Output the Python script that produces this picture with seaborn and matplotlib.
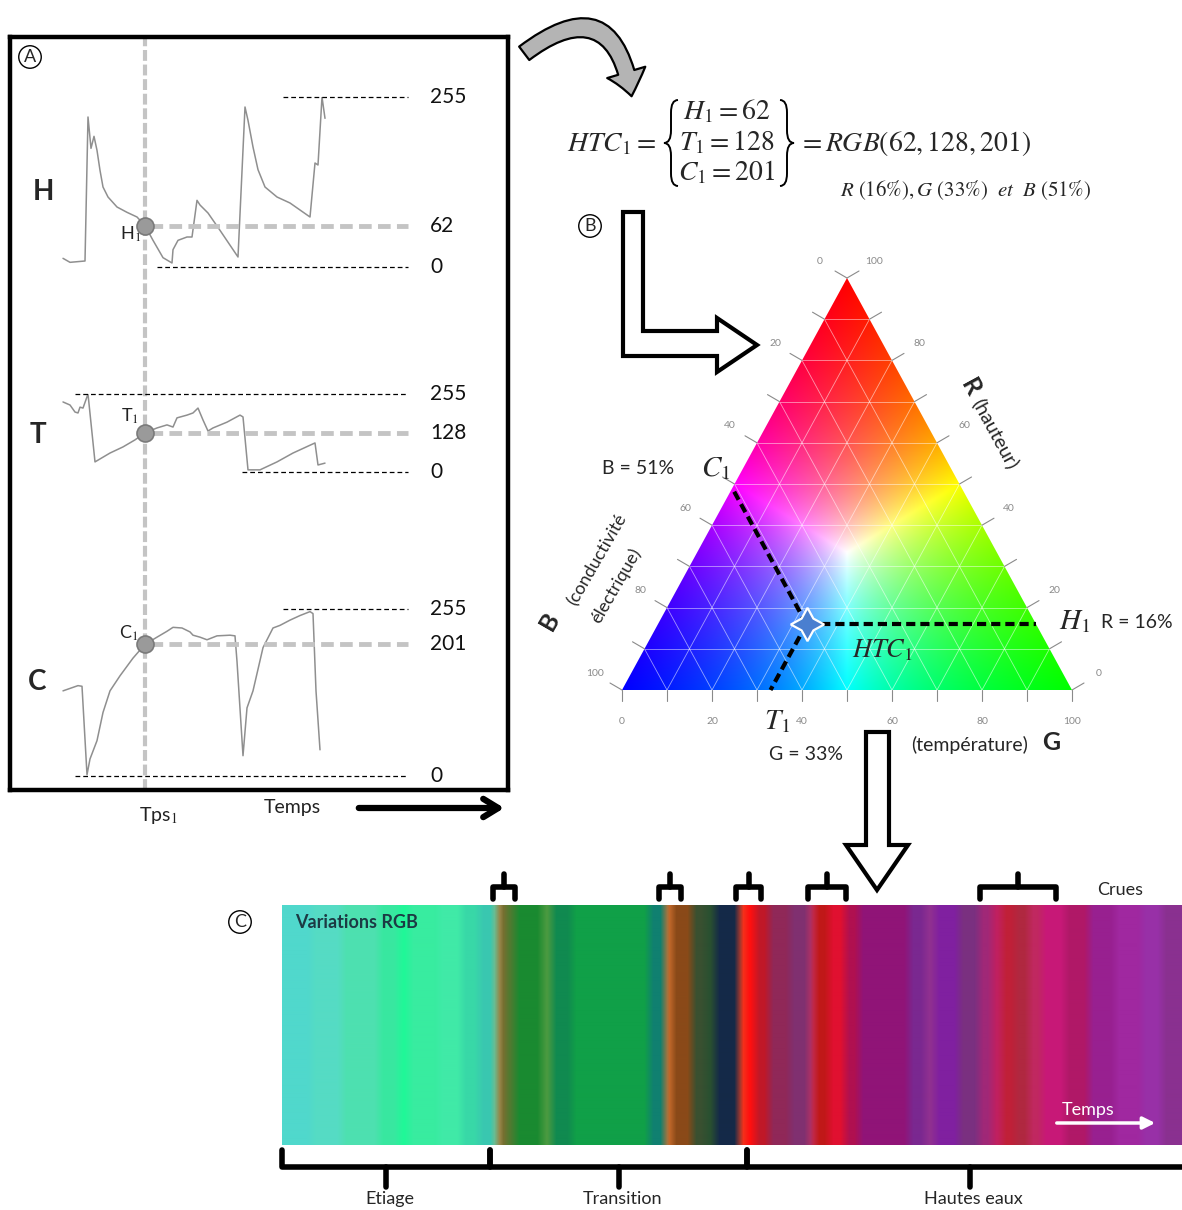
import numpy as np
import matplotlib
matplotlib.use('Agg')
import matplotlib.pyplot as plt
import seaborn as sns
import pandas as pd
from matplotlib.patches import Polygon, FancyArrowPatch, PathPatch
from matplotlib.path import Path
from matplotlib.transforms import blended_transform_factory

sns.set_theme(style='white')
plt.rcParams['font.family'] = ['Lato', 'DejaVu Sans']
plt.rcParams['mathtext.fontset'] = 'stix'

# ---------------- data ----------------
time_H = [0, 7, 22, 25, 28, 31, 34, 37, 40, 45, 54, 64, 74, 82, 90, 100, 109, 110, 115, 124,
          129, 134, 137, 145, 157, 175, 182, 185, 190, 195, 202, 214, 227, 247, 252, 255,
          259, 262]
val_H = [13, 7, 9, 225, 178, 196, 175, 145, 120, 105, 90, 82, 75, 62, 40, 14, 6, 26, 40, 45,
         45, 100, 93, 81, 55, 15, 240, 220, 180, 146, 120, 105, 96, 75, 156, 153, 255, 223]
time_T = [0, 7, 12, 15, 17, 20, 25, 32, 47, 60, 72, 82, 94, 104, 110, 114, 124, 130, 135,
          140, 145, 150, 164, 177, 180, 185, 197, 214, 230, 252, 255, 262]
val_T = [229, 219, 196, 193, 212, 209, 255, 33, 62, 82, 105, 128, 144, 154, 147, 177, 186,
         193, 209, 170, 134, 144, 163, 186, 180, 7, 7, 33, 62, 95, 23, 29]
time_C = [0, 15, 19, 24, 27, 34, 40, 47, 57, 70, 82, 94, 104, 110, 119, 127, 130, 137, 144,
          154, 167, 172, 174, 180, 184, 190, 200, 210, 217, 227, 237, 247, 250, 253, 257]
val_C = [130, 138, 137, 2, 26, 54, 97, 130, 153, 180, 201, 212, 221, 227, 226, 220, 215, 212,
         208, 214, 215, 214, 175, 31, 104, 130, 196, 226, 230, 238, 245, 251, 248, 130, 40]
tps1 = 82
H1, T1, C1 = 62, 128, 201
R_pct, G_pct, B_pct = 16, 33, 51

band_start = [0, 30, 60, 97, 117, 127, 157, 180, 197, 213, 217, 223, 233, 260, 270, 290,
              367, 383, 390, 410, 423, 433, 457, 463, 473, 487, 508, 527, 533, 547, 563,
              577, 627, 643, 653, 677, 697, 710, 720, 733, 747, 760, 783, 807, 833, 860, 880]
band_color = ['#50d8cc', '#55dcc4', '#4ee0b0', '#38e8a0', '#20f898', '#38eca0', '#40eaa8',
              '#38d8a8', '#3ac8b0', '#a0b070', '#8a6a30', '#507a30', '#1a8a30', '#4a9a40',
              '#108a50', '#10a048', '#108070', '#d07030', '#8a4a18', '#3a5030', '#2a5030',
              '#152a48', '#f04020', '#ff1010', '#c01828', '#902858', '#803070', '#c03060',
              '#c01818', '#e01030', '#b01050', '#901478', '#7a2890', '#903090', '#8020a0',
              '#7a3080', '#a02878', '#c02060', '#c02038', '#b02840', '#c02860', '#c81878',
              '#b01868', '#982090', '#a028a0', '#9830a8', '#8a3090']
strip_len = 900
crue_periods = [(211, 233), (377, 399), (454, 479), (526, 564), (698, 774)]
phases = [('Etiage', 0, 208), ('Transition', 208, 465), ('Hautes eaux', 465, 910)]

# ---------------- figure ----------------
W, HH = 1182, 1210
fig = plt.figure(figsize=(W / 100, HH / 100), dpi=100)


def px_axes(x0, y0, x1, y1, **kw):
    return fig.add_axes([x0 / W, 1 - y1 / HH, (x1 - x0) / W, (y1 - y0) / HH], **kw)


ov = px_axes(0, 0, W, HH)
ov.set_xlim(0, W)
ov.set_ylim(HH, 0)
ov.axis('off')
ov.set_zorder(10)
ov.patch.set_visible(False)

# ---------------- Panel A ----------------
TX = (-53, 445)
box = px_axes(10, 37, 508, 790)
box.set_xlim(*TX)
box.set_ylim(0, 1)
box.set_xticks([]); box.set_yticks([])
for s in box.spines.values():
    s.set_linewidth(3.2); s.set_color('black')
box.axvline(tps1, color='#c4c4c4', lw=3, dashes=(2.6, 0.9))

trace_specs = [
    ('H', time_H, val_H, H1, (97, 267), [(255, 220), (0, 94)], (-3, 1), ('right', 'top')),
    ('T', time_T, val_T, T1, (394, 472), [(255, 12), (0, 179)], (-4, 5), ('right', 'bottom')),
    ('C', time_C, val_C, C1, (609, 776), [(255, 220), (0, 12)], (-5, 1), ('right', 'bottom')),
]
for name, tt, vv, v1, (ytop, ybot), reflines, off, (ha, va) in trace_specs:
    ax = px_axes(10, ytop, 508, ybot)
    ax.set_xlim(*TX); ax.set_ylim(0, 255); ax.axis('off'); ax.patch.set_visible(False)
    df = pd.DataFrame({'t': tt, 'v': vv})
    sns.lineplot(data=df, x='t', y='v', ax=ax, color='#8f8f8f', lw=1.1,
                 estimator=None, sort=False)
    for val, start in reflines:
        ax.plot([start, 345], [val, val], color='black', lw=0.9, dashes=(3.8, 2.4),
                clip_on=False)
    ax.plot([87, 345], [v1, v1], color='#c4c4c4', lw=3.5, dashes=(2.6, 1.3), clip_on=False)
    ax.scatter([tps1], [v1], s=150, color='#9a9a9a', edgecolor='#7a7a7a', lw=1.2,
               zorder=5, clip_on=False)
    for val in [255, v1, 0]:
        ax.text(367, val, str(val), fontsize=15, va='center', ha='left', color='#111',
                clip_on=False)
    ax.annotate(name + '$_1$', (tps1, v1), xytext=off, textcoords='offset points',
                ha=ha, va=va, fontsize=13, color='#222')

for lab, (x, y) in zip(['H', 'T', 'C'], [(43, 192), (38, 435), (37, 682)]):
    ov.text(x, y, lab, fontsize=20, fontweight='bold', ha='center', va='center')

ov.text(30, 57, 'A', fontsize=13, ha='center', va='center',
        bbox=dict(boxstyle='circle,pad=0.18', fc='white', ec='black', lw=1))
ov.text(158, 815, 'Tps$_1$', fontsize=14, ha='center', va='center', color='#222')
ov.text(292, 807, 'Temps', fontsize=14, ha='center', va='center', color='#222')
ov.annotate('', xy=(507, 808), xytext=(356, 808),
            arrowprops=dict(arrowstyle='->,head_length=0.9,head_width=0.55', lw=4.5,
                            color='black'))

ov.add_patch(FancyArrowPatch((522, 55), (632, 99), connectionstyle='arc3,rad=-0.85',
                             arrowstyle='simple,head_length=0.8,head_width=1.3,tail_width=0.55',
                             mutation_scale=22, fc='#b4b4b4', ec='black', lw=1.6))


# ---------------- equation ----------------
def brace(x, y0, y1, w, left=True):
    s = 1 if left else -1
    ym = (y0 + y1) / 2
    q = w * 0.9
    xm = x + s * w / 2
    xt = x + s * w
    verts = [(xt, y0), (xm, y0), (xm, y0 + q), (xm, ym - q), (xm, ym), (x, ym),
             (xm, ym), (xm, ym + q), (xm, y1 - q), (xm, y1), (xt, y1)]
    codes = [Path.MOVETO, Path.CURVE3, Path.CURVE3, Path.LINETO, Path.CURVE3, Path.CURVE3,
             Path.CURVE3, Path.CURVE3, Path.LINETO, Path.CURVE3, Path.CURVE3]
    ov.add_patch(PathPatch(Path(verts, codes), fc='none', ec='black', lw=1.4))


ov.text(567, 144, r'$HTC_1 =$', fontsize=20, ha='left', va='center')
brace(664, 100, 186, 14, left=True)
ov.text(727, 111, r'$H_1 = 62$', fontsize=20, ha='center', va='center')
ov.text(727, 142, r'$T_1 = 128$', fontsize=20, ha='center', va='center')
ov.text(727, 172, r'$C_1 = 201$', fontsize=20, ha='center', va='center')
brace(794, 100, 186, 14, left=False)
ov.text(798, 143, r'$= RGB(62,128,201)$', fontsize=20, ha='left', va='center')
ov.text(840, 190, r'$R\ (16\%),G\ (33\%)\ \ et\ \ B\ (51\%)$', fontsize=15, ha='left',
        va='center')

# ---------------- Panel B (ternary) ----------------
ov.text(590, 226, 'B', fontsize=13, ha='center', va='center',
        bbox=dict(boxstyle='circle,pad=0.18', fc='white', ec='black', lw=1))
L_arrow = [(623, 212), (643, 212), (643, 331), (717, 331), (717, 318), (757, 345),
           (717, 372), (717, 356), (623, 356)]
ov.add_patch(Polygon(L_arrow, closed=True, fc='white', ec='black', lw=3))
D_arrow = [(866, 732), (889, 732), (889, 845), (908, 845), (877, 890), (846, 845), (866, 845)]
ov.add_patch(Polygon(D_arrow, closed=True, fc='white', ec='black', lw=3))

h = np.sqrt(3) / 2
TL, TR, TT, TB = 622, 1072, 278, 690
AX0, AX1, AY0, AY1 = 577, 1117, 250, 732
sx = (TR - TL)
sy = (TB - TT) / h
tern = px_axes(AX0, AY0, AX1, AY1)
tern.set_xlim((AX0 - TL) / sx, (AX1 - TL) / sx)
tern.set_ylim(-(AY1 - TB) / sy, (TB - AY0) / sy)
tern.axis('off')
tern.patch.set_visible(False)

xs = np.linspace(0, 1, 451)
ys = np.linspace(0, h, 413)
X, Y = np.meshgrid(xs, ys)
Rr = Y / h
Gg = X - Rr / 2
Bb = 1 - Rr - Gg
rgb = np.clip(np.stack([Rr, Gg, Bb], -1), 0, 1)
rgb = rgb / np.maximum(rgb.max(-1, keepdims=True), 1e-6)
tri = Polygon([(0, 0), (1, 0), (0.5, h)], closed=True, transform=tern.transData,
              fc='none', ec='none')
tern.add_patch(tri)
im = tern.imshow(rgb, extent=(0, 1, 0, h), origin='lower', aspect='auto',
                 interpolation='bilinear')
im.set_clip_path(tri)


def t2c(r, g, b):
    return g + r / 2, r * h


for k in range(1, 10):
    f = k / 10
    for p, q in [((f, 1 - f, 0), (f, 0, 1 - f)),
                 ((0, f, 1 - f), (1 - f, f, 0)),
                 ((0, 1 - f, f), (1 - f, 0, f))]:
        a, b_ = t2c(*p), t2c(*q)
        tern.plot([a[0], b_[0]], [a[1], b_[1]], color='white', lw=0.6, alpha=0.55)

tick_col = '#8a8a8a'
dx_px, dy_px = 12 / sx, 7 / sy
lx_px, ly_px = 27 / sx, 17 / sy
for k in range(0, 11):
    f = k / 10
    tern.plot([f, f], [0, -11 / sy], color=tick_col, lw=0.8, clip_on=False)
    x, y = t2c(1 - f, 0, f)
    tern.plot([x, x - dx_px], [y, y + dy_px], color=tick_col, lw=0.8, clip_on=False)
    x2, y2 = t2c(f, 1 - f, 0)
    tern.plot([x2, x2 + dx_px], [y2, y2 + dy_px], color=tick_col, lw=0.8, clip_on=False)
    if k % 2 == 0:
        lab = str(k * 10)
        tern.text(f, -32 / sy, lab, fontsize=7.5, color=tick_col, ha='center', va='center')
        tern.text(x - lx_px, y + ly_px, lab, fontsize=7.5, color=tick_col, ha='center',
                  va='center')
        tern.text(x2 + lx_px, y2 + ly_px, lab, fontsize=7.5, color=tick_col, ha='center',
                  va='center')

r, g, b = R_pct / 100, G_pct / 100, B_pct / 100
p0 = t2c(r, g, b)
for q in [t2c(1 - b, 0, b), t2c(0, g, 1 - g), t2c(r, 1 - r, 0)]:
    tern.plot([p0[0], q[0]], [p0[1], q[1]], color='black', lw=3, dashes=(2.2, 1.2),
              zorder=4)
tern.plot([p0[0]], [p0[1]], marker=(4, 1, 0), ms=24, mfc='#4a7fd0', mec='white', mew=1.6,
          zorder=5)

serif_it = dict(fontsize=21)
ov.text(716, 469, r'$C_1$', ha='center', va='center', **serif_it)
ov.text(638, 469, 'B = 51%', fontsize=14, ha='center', va='center')
ov.text(1075, 622, r'$H_1$', ha='center', va='center', **serif_it)
ov.text(1137, 622, 'R = 16%', fontsize=14, ha='center', va='center')
ov.text(882, 650, r'$HTC_1$', fontsize=19, ha='center', va='center')
ov.text(777, 722, r'$T_1$', ha='center', va='center', **serif_it)
ov.text(806, 755, 'G = 33%', fontsize=14, ha='center', va='center')
ov.text(970, 745, '(température)', fontsize=14, ha='center', va='center')
ov.text(1051, 742, 'G', fontsize=18, fontweight='bold', ha='center', va='center')
ov.text(970, 388, 'R', fontsize=18, fontweight='bold', ha='center', va='center',
        rotation=-61.5)
ov.text(995, 434, '(hauteur)', fontsize=14, ha='center', va='center', rotation=-61.5)
ov.text(550, 621, 'B', fontsize=18, fontweight='bold', ha='center', va='center',
        rotation=60)
ov.text(597, 560, '(conductivité', fontsize=13, ha='center', va='center', rotation=60)
ov.text(616, 586, 'électrique)', fontsize=13, ha='center', va='center', rotation=60)

# ---------------- Panel C (strip) ----------------
ov.text(240, 922, 'C', fontsize=13, ha='center', va='center',
        bbox=dict(boxstyle='circle,pad=0.18', fc='white', ec='black', lw=1))
strip = px_axes(282, 905, 1182, 1145)
cols = np.array([matplotlib.colors.to_rgb(c) for c in band_color])
idx = np.searchsorted(band_start, np.arange(strip_len), side='right') - 1
col_img = cols[idx]
kw = 9
kern = np.ones(kw) / kw
col_img = np.stack([np.convolve(np.pad(col_img[:, i], kw // 2, mode='edge'), kern, 'valid')
                    for i in range(3)], -1)
strip.imshow(col_img[None, :, :], extent=(0, strip_len, 0, 1), aspect='auto',
             interpolation='bilinear')
strip.set_xlim(0, strip_len)
strip.set_ylim(0, 1)
strip.axis('off')
bt = blended_transform_factory(strip.transData, strip.transAxes)
u = 1 / 240
for t0, t1 in crue_periods:
    tc = (t0 + t1) / 2
    strip.plot([t0, t0, t1, t1], [1 + 6 * u, 1 + 18 * u, 1 + 18 * u, 1 + 6 * u],
               color='black', lw=4, transform=bt, clip_on=False, solid_joinstyle='round')
    strip.plot([tc, tc], [1 + 18 * u, 1 + 31 * u], color='black', lw=4, transform=bt,
               clip_on=False)
strip.text(838, 1 + 15 * u, 'Crues', fontsize=13, ha='center', va='center', transform=bt)
for lab, t0, t1 in phases:
    tc = (t0 + t1) / 2
    strip.plot([t0, t0, t1, t1], [-5 * u, -22 * u, -22 * u, -5 * u], color='black', lw=4,
               transform=bt, clip_on=False, solid_joinstyle='round')
    strip.plot([tc, tc], [-22 * u, -42 * u], color='black', lw=4, transform=bt,
               clip_on=False)
    strip.text(tc + 4, -54 * u, lab, fontsize=13, ha='center', va='center', transform=bt)
strip.text(13, 1 - 18 * u, 'Variations RGB', fontsize=13, fontweight='bold',
           color='#1c3a44', ha='left', va='center', transform=bt)
strip.text(806, 35 * u, 'Temps', fontsize=13, color='white', ha='center', va='center',
           transform=bt)
strip.annotate('', xy=(876, 22 * u), xytext=(772, 22 * u), xycoords=bt, textcoords=bt,
               arrowprops=dict(arrowstyle='-|>,head_length=0.6,head_width=0.3', lw=2.5,
                               color='white'))

fig.savefig('out.png', dpi=100)
